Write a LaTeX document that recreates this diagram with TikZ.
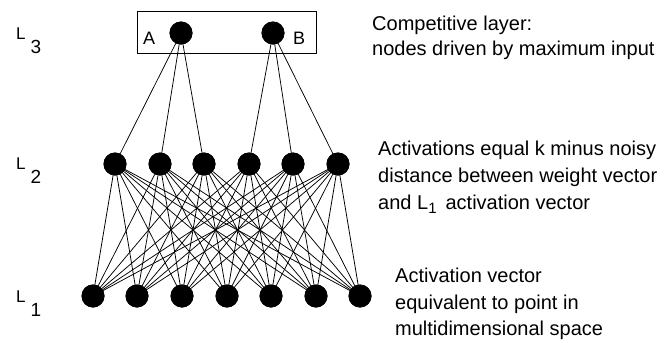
\documentclass[tikz,border=0pt]{standalone}
\usepackage{fontspec}
\setmainfont{Liberation Sans}
\newcommand{\laylabel}[1]{{\fontsize{17}{20}\selectfont L}\hspace{5pt}\raisebox{-14pt}{\fontsize{19}{20}\selectfont #1}}
\begin{document}
\begin{tikzpicture}[x=1pt,y=-1pt,
  unit/.style={circle,fill=black,inner sep=0pt,minimum size=23pt},
  link/.style={line width=0.75pt},
  desc/.style={anchor=base west,inner sep=0pt,font=\fontsize{20}{24}\selectfont},
  lay/.style={anchor=base west,inner sep=0pt}]
\useasboundingbox (0,0) rectangle (665,343);
% layer 3
\node[draw,line width=0.9pt,minimum width=179pt,minimum height=42pt,inner sep=0pt] (box) at (226.5,32) {};
\node[unit] (a) at (181,33) {};
\node[unit] (b) at (273,33) {};
\node[anchor=base west,inner sep=0pt,font=\fontsize{18}{22}\selectfont] (la) at (143,44) {A};
\node[anchor=base west,inner sep=0pt,font=\fontsize{18}{22}\selectfont] (lb) at (293,44) {B};
% layer 2
\foreach \i/\x in {1/115,2/160,3/204,4/249,5/293,6/338}
  \node[unit] (h\i) at (\x,164) {};
% layer 1
\foreach \i/\x in {1/93,2/137,3/182,4/227,5/271,6/316,7/360}
  \node[unit] (i\i) at (\x,296) {};
% connections
\foreach \j in {1,2,3} \draw[link] (a.center) -- (h\j.center);
\foreach \j in {4,5,6} \draw[link] (b.center) -- (h\j.center);
\foreach \j in {1,...,6}
  \foreach \k in {1,...,7}
    \draw[link] (h\j.center) -- (i\k.center);
% nodes on top
\foreach \n in {a,b,h1,h2,h3,h4,h5,h6,i1,i2,i3,i4,i5,i6,i7}
  \fill (\n.center) circle (11.5pt);
% layer labels
\node[lay] (l3) at (16,39) {\laylabel{3}};
\node[lay] (l2) at (16,169) {\laylabel{2}};
\node[lay] (l1) at (16,302) {\laylabel{1}};
% descriptions
\node[desc] (t1) at (372,30) {Competitive layer:};
\node[desc] (t2) at (372,55) {nodes driven by maximum input};
\node[desc] (t3) at (378,155) {Activations equal k minus noisy};
\node[desc] (t4) at (378,182) {distance between weight vector};
\node[desc] (t5) at (378,209) {and L\raisebox{-4pt}{\fontsize{15}{16}\selectfont 1}\hspace{9pt}activation vector};
\node[desc] (t6) at (395,282) {Activation vector};
\node[desc] (t7) at (395,309) {equivalent to point in};
\node[desc] (t8) at (395,335) {multidimensional space};
\end{tikzpicture}
\end{document}
